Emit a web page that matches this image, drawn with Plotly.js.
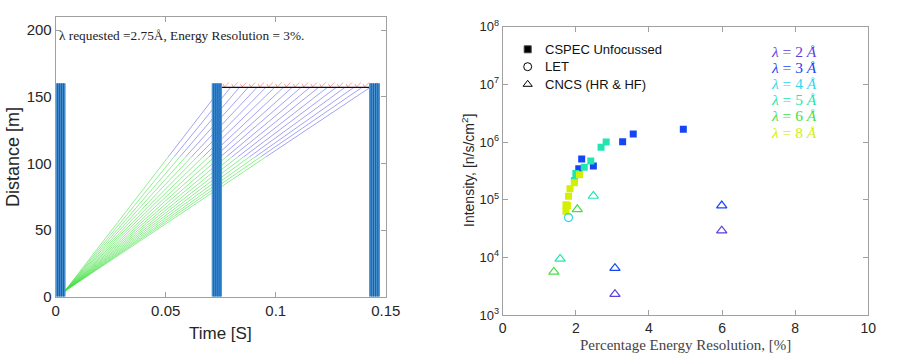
<!DOCTYPE html>
<html>
<head>
<meta charset="utf-8">
<script src="https://cdn.plot.ly/plotly-3.0.1.min.js"></script>
<style>html,body{margin:0;padding:0;background:#fff}#chart{width:913px;height:363px}</style>
</head>
<body>
<div id="chart"></div>
<script>
// ---------- Left panel: time-distance diagram ----------
const arrivalTimes = [0.0755, 0.0795, 0.0835, 0.0875, 0.0915, 0.0955, 0.0995, 0.1035, 0.1075,
                      0.1115, 0.1155, 0.1195, 0.1235, 0.1275, 0.1315, 0.1355, 0.1392, 0.1429];
const sourceTime = 0.004;      // s, where the neutron paths converge
const sourceDist = 4;          // m
const splitDist = 105;         // m, colour change
const sampleDist = 157;        // m
const chopperOpen = [0, 0.0709, 0.1424];
const chopperClose = [0.0045, 0.0756, 0.1474];
const chopperTop = 160;
const timeTickVals = [0, 0.05, 0.1, 0.15];
const timeTickText = ['0', '0.05', '0.1', '0.15'];
const distTickVals = [0, 50, 100, 150, 200];

// ---------- Right panel: intensity vs resolution ----------
const cspecRes    = [4.94, 3.57, 3.28, 2.16, 2.48, 2.08, 2.83, 2.69, 2.41, 2.23, 2.00, 1.96, 2.10, 1.96, 1.84, 1.80, 1.73, 1.77, 1.73];
const cspecInt    = [1.66e6, 1.38e6, 1.01e6, 5.1e5, 3.85e5, 3.45e5, 1.0e6, 8.1e5, 4.7e5, 3.65e5, 2.85e5, 2.15e5, 2.7e5, 1.97e5, 1.55e5, 1.15e5, 8.2e4, 7.9e4, 6.3e4];
const cspecLambda = [3, 3, 3, 3, 3, 3, 5, 5, 5, 5, 5, 5, 8, 8, 8, 8, 8, 8, 8];
const letRes = [1.80];
const letInt = [4.9e4];
const letLambda = [4];
const cncsRes    = [2.48, 2.04, 5.99, 5.99, 1.57, 1.40, 3.07, 3.07];
const cncsInt    = [1.16e5, 6.8e4, 7.9e4, 2.9e4, 9.4e3, 5.6e3, 6.5e3, 2.3e3];
const cncsLambda = [5, 6, 3, 2, 5, 6, 3, 2];
const lambdaList = [2, 3, 4, 5, 6, 8];
const lambdaColors = {2: '#5b3fe0', 3: '#1646f4', 4: '#34d4ec', 5: '#22e6b0', 6: '#44e044', 8: '#d4f000'};
const intTickVals = [1e3, 1e4, 1e5, 1e6, 1e7, 1e8];
const intTickText = ['10<sup>3</sup>', '10<sup>4</sup>', '10<sup>5</sup>', '10<sup>6</sup>', '10<sup>7</sup>', '10<sup>8</sup>'];
const resTickVals = [0, 2, 4, 6, 8, 10];
const legendNames = ['CSPEC Unfocussed', 'LET', 'CNCS (HR & HF)'];
const legendSymbols = ['square', 'circle-open', 'triangle-up-open'];

// legend placement in pixels (layout only)
const legendMarkerX = 527.7, legendTextX = 543, legendRowY = [49.3, 66.7, 84.3];

// ---------- build left traces ----------
const traces = [];
const gx = [], gy = [], bx = [], by = [], rx = [], ry = [];
arrivalTimes.forEach(T => {
  const tSplit = sourceTime + (splitDist - sourceDist) / (sampleDist - sourceDist) * (T - sourceTime);
  gx.push(sourceTime, tSplit, null); gy.push(sourceDist, splitDist, null);
  bx.push(tSplit, T, null); by.push(splitDist, sampleDist, null);
  rx.push(T + 0.0005, T + 0.0012, T + 0.0032, null); ry.push(159.6, 157.3, 160.6, null);
});
traces.push({x: gx, y: gy, xaxis: 'x', yaxis: 'y', mode: 'lines', line: {color: 'rgba(70,225,70,0.75)', width: 0.8}, showlegend: false, hoverinfo: 'skip'});
traces.push({x: bx, y: by, xaxis: 'x', yaxis: 'y', mode: 'lines', line: {color: 'rgba(100,100,235,0.75)', width: 0.8}, showlegend: false, hoverinfo: 'skip'});
traces.push({x: rx, y: ry, xaxis: 'x', yaxis: 'y', mode: 'lines', line: {color: 'rgba(255,110,110,0.85)', width: 0.8}, showlegend: false, hoverinfo: 'skip'});
traces.push({x: [arrivalTimes[0], arrivalTimes[arrivalTimes.length - 1]], y: [sampleDist, sampleDist], xaxis: 'x', yaxis: 'y', mode: 'lines', line: {color: '#111', width: 1.2}, showlegend: false, hoverinfo: 'skip'});

// ---------- build right traces ----------
function colorsFor(arr) { return arr.map(l => lambdaColors[l]); }
traces.push({x: cspecRes, y: cspecInt, xaxis: 'x2', yaxis: 'y2', mode: 'markers', showlegend: false,
  marker: {symbol: 'square', size: 7, color: colorsFor(cspecLambda), line: {width: 0}}});
traces.push({x: letRes, y: letInt, xaxis: 'x2', yaxis: 'y2', mode: 'markers', showlegend: false,
  marker: {symbol: 'circle-open', size: 8, color: colorsFor(letLambda), line: {width: 1.2}}});
traces.push({x: cncsRes, y: cncsInt, xaxis: 'x2', yaxis: 'y2', mode: 'markers', showlegend: false,
  marker: {symbol: 'triangle-up-open', size: 9, color: colorsFor(cncsLambda), line: {width: 1.2}}});
// legend key markers on a pixel overlay axis
legendNames.forEach((n, i) => {
  traces.push({x: [legendMarkerX], y: [legendRowY[i]], xaxis: 'x3', yaxis: 'y3', mode: 'markers', name: n, showlegend: false,
    marker: {symbol: legendSymbols[i], size: i === 0 ? 7 : 8, color: '#000', line: {width: 1}}, cliponaxis: false});
});

// ---------- shapes (choppers) ----------
const shapes = [];
chopperOpen.forEach((t0, i) => {
  const t1 = chopperClose[i];
  shapes.push({type: 'rect', xref: 'x', yref: 'y', x0: t0, x1: t1, y0: 0, y1: chopperTop,
    fillcolor: 'rgb(78,146,206)', line: {width: 0}, layer: 'above'});
  for (let k = 1; k <= 4; k++) {
    const tx = t0 + (t1 - t0) * k / 5;
    shapes.push({type: 'line', xref: 'x', yref: 'y', x0: tx, x1: tx, y0: 0, y1: chopperTop,
      line: {color: 'rgb(0,96,190)', width: 1}, layer: 'above'});
  }
});

// ---------- annotations ----------
const px = v => v / 913, py = v => 1 - v / 363;
const annotations = [];
annotations.push({xref: 'x', yref: 'y', x: 0.0006, y: 196, xanchor: 'left', yanchor: 'middle', showarrow: false,
  text: 'λ requested =2.75Å, Energy Resolution = 3%.', font: {family: 'Liberation Serif', size: 13.3, color: '#222'}});
// wavelength key (one multi-line text, each line coloured)
annotations.push({xref: 'paper', yref: 'paper', x: px(769), y: py(41), xanchor: 'left', yanchor: 'top', align: 'left', showarrow: false,
  text: lambdaList.map(l => '<span style="color:' + lambdaColors[l] + ';font-size:15.5px"><i>λ</i> = ' + l + ' <i>Å</i></span>').join('<br>'),
  font: {family: 'Liberation Serif', size: 12.4, color: '#000'}});
// legend texts
legendNames.forEach((n, i) => {
  annotations.push({xref: 'paper', yref: 'paper', x: px(legendTextX), y: py(legendRowY[i]), xanchor: 'left', yanchor: 'middle',
    showarrow: false, text: n, font: {family: 'Liberation Sans', size: 13, color: '#111'}});
});
// axis titles
annotations.push({xref: 'paper', yref: 'paper', x: px(220.7), y: py(333), xanchor: 'center', yanchor: 'middle', showarrow: false,
  text: 'Time [S]', font: {family: 'Liberation Sans', size: 17, color: '#262626'}});
annotations.push({xref: 'paper', yref: 'paper', x: px(13), y: py(157), xanchor: 'center', yanchor: 'middle', showarrow: false, textangle: -90,
  text: 'Distance [m]', font: {family: 'Liberation Sans', size: 18, color: '#262626'}});
annotations.push({xref: 'paper', yref: 'paper', x: px(685), y: py(345), xanchor: 'center', yanchor: 'middle', showarrow: false,
  text: 'Percentage Energy Resolution, [%]', font: {family: 'Liberation Serif', size: 15, color: '#444'}});
annotations.push({xref: 'paper', yref: 'paper', x: px(468), y: py(170), xanchor: 'center', yanchor: 'middle', showarrow: false, textangle: -90,
  text: 'Intensity, [n/s/cm<sup>2</sup>]', font: {family: 'Liberation Sans', size: 14, color: '#262626'}});

const axisCommon = {showgrid: false, zeroline: false, showline: true, linecolor: '#a0a0a0', linewidth: 1,
  mirror: 'ticks', ticks: 'inside', ticklen: 5, tickcolor: '#a0a0a0', tickfont: {family: 'Liberation Sans', color: '#262626'}};

const layout = {
  width: 913, height: 363, margin: {l: 0, r: 0, t: 0, b: 0}, paper_bgcolor: '#fff', plot_bgcolor: 'rgba(0,0,0,0)',
  font: {family: 'Liberation Sans', color: '#262626'},
  showlegend: false,
  xaxis: Object.assign({}, axisCommon, {domain: [0.0610, 0.4225], range: [0, 0.15], anchor: 'y',
    tickvals: timeTickVals, ticktext: timeTickText, tickfont: {family: 'Liberation Sans', size: 15, color: '#262626'}}),
  yaxis: Object.assign({}, axisCommon, {domain: [0.1826, 0.954], range: [0, 210], anchor: 'x',
    tickvals: distTickVals, tickfont: {family: 'Liberation Sans', size: 15, color: '#262626'}}),
  xaxis2: Object.assign({}, axisCommon, {domain: [0.5506, 0.9511], range: [0, 10], anchor: 'y2',
    tickvals: resTickVals, tickfont: {family: 'Liberation Sans', size: 14, color: '#262626'}}),
  yaxis2: Object.assign({}, axisCommon, {domain: [0.1322, 0.9264], type: 'log', range: [3, 8], anchor: 'x2',
    tickvals: intTickVals, ticktext: intTickText, tickfont: {family: 'Liberation Sans', size: 13, color: '#262626'}}),
  xaxis3: {domain: [0, 1], range: [0, 913], visible: false, anchor: 'y3', fixedrange: true},
  yaxis3: {domain: [0, 1], range: [363, 0], visible: false, anchor: 'x3', fixedrange: true},
  shapes: shapes,
  annotations: annotations
};

Plotly.newPlot('chart', traces, layout, {staticPlot: true, displayModeBar: false});
</script>
</body>
</html>
